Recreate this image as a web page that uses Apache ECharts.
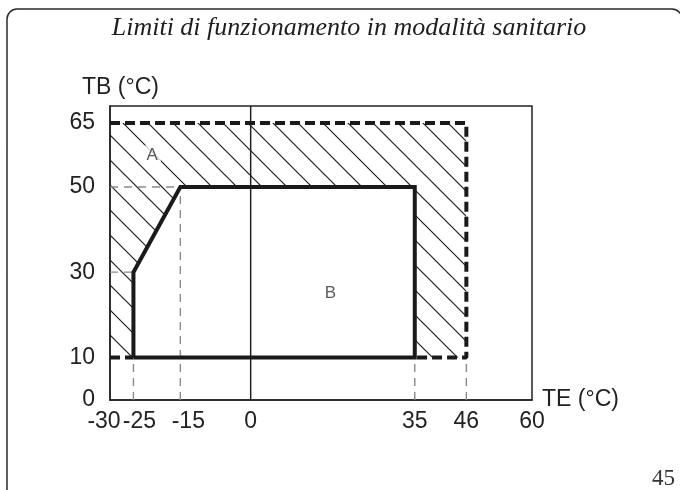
<!DOCTYPE html>
<html>
<head>
<meta charset="utf-8">
<script src="https://cdn.jsdelivr.net/npm/echarts@6.0.0/dist/echarts.min.js"></script>
<style>
  html, body { margin: 0; padding: 0; background: #fff; }
  #chart { width: 680px; height: 490px; }
</style>
</head>
<body>
<div id="chart"></div>
<script>
// Operating limits, domestic hot water mode: outside temperature TE vs water temperature TB
const teTicks = [-30, -25, -15, 0, 35, 46, 60];
const tbTicks = [0, 10, 30, 50, 65];

// Working envelope (solid thick outline)
const workArea = [[-25, 10], [-25, 30], [-15, 50], [35, 50], [35, 10], [-25, 10]];
// Outer limit (dashed thick outline)
const outerLimitTop = [[-30, 65], [46, 65], [46, 10], [35, 10]];
const outerLimitLeft = [[-30, 10], [-25, 10]];
// Hatched band A: outer limit minus working envelope
const bandA = [[-30, 10], [-30, 65], [46, 65], [46, 10], [35, 10], [35, 50], [-15, 50], [-25, 30], [-25, 10]];
// Thin grey reference lines
const guideLines = [
  [[-30, 50], [-15, 50]],
  [[-30, 30], [-25, 30]],
  [[-25, 0], [-25, 10]],
  [[-15, 0], [-15, 50]],
  [[35, 0], [35, 10]],
  [[46, 0], [46, 10]]
];
const zeroLine = [[0, 0], [0, 69]];
const regionLabels = [['A', -21, 57.5], ['B', 17, 25]];

const TB_MAX = 69;

// Diagonal hatch tile
function hatchTile() {
  const s = 25;
  const c = document.createElement('canvas');
  c.width = s; c.height = s;
  const g = c.getContext('2d');
  g.strokeStyle = '#1e1e1e';
  g.lineWidth = 1.2;
  [-s, 0, s].forEach(function (o) {
    g.beginPath();
    g.moveTo(o - 2, -2);
    g.lineTo(o + s + 2, s + 2);
    g.stroke();
  });
  return c;
}
const hatch = hatchTile();

const sansFont = '"Liberation Sans", Arial, sans-serif';
const serifFont = '"Liberation Serif", "Times New Roman", serif';

const chart = echarts.init(document.getElementById('chart'), null, { renderer: 'canvas' });

const series = [];

series.push({
  type: 'custom',
  z: 1,
  silent: true,
  data: [0],
  renderItem: function (params, api) {
    const pts = bandA.map(function (p) { return api.coord(p); });
    return {
      type: 'polygon',
      shape: { points: pts },
      style: { fill: { image: hatch, repeat: 'repeat' }, stroke: null }
    };
  }
});

guideLines.forEach(function (seg) {
  series.push({
    type: 'line', data: seg, symbol: 'none', z: 2, silent: true,
    lineStyle: { color: '#8a8a8a', width: 1.4, type: [8, 6] }
  });
});

series.push({
  type: 'line', data: zeroLine, symbol: 'none', z: 3, silent: true,
  lineStyle: { color: '#222', width: 1.5 }
});

[outerLimitTop, outerLimitLeft].forEach(function (seg) {
  series.push({
    type: 'line', data: seg, symbol: 'none', z: 4, silent: true,
    lineStyle: { color: '#1a1a1a', width: 4, type: [10, 5] }
  });
});

series.push({
  type: 'line', data: workArea, symbol: 'none', z: 5, silent: true,
  lineStyle: { color: '#1a1a1a', width: 4, join: 'miter' }
});

series.push({
  type: 'scatter', z: 6, silent: true, symbolSize: 0,
  data: regionLabels.map(function (r) { return { name: r[0], value: [r[1], r[2]] }; }),
  label: {
    show: true, position: 'inside', formatter: '{b}',
    color: '#333', fontSize: 17, fontFamily: sansFont,
    backgroundColor: '#fff', padding: [1, 3]
  }
});

chart.setOption({
  animation: false,
  backgroundColor: '#fff',
  grid: {
    left: 110, right: 148, top: 106, bottom: 90,
    show: true, borderColor: '#222', borderWidth: 1.5
  },
  xAxis: {
    type: 'value', min: -30, max: 60,
    axisLine: { show: true, onZero: false, lineStyle: { color: '#222', width: 1.5 } },
    axisTick: { show: false },
    splitLine: { show: false },
    axisLabel: {
      customValues: teTicks,
      color: '#222', fontSize: 23, fontFamily: sansFont, margin: 10,
      hideOverlap: false,
      formatter: function (v) {
        if (v === -30) return '{l|' + v + '}';
        if (v === -25) return '{r|' + v + '}';
        if (v === -15) return '{rr|' + v + '}';
        return String(v);
      },
      rich: {
        l: { fontSize: 23, fontFamily: sansFont, color: '#222', padding: [0, 12, 0, 0] },
        r: { fontSize: 23, fontFamily: sansFont, color: '#222', padding: [0, 0, 0, 12] },
        rr: { fontSize: 23, fontFamily: sansFont, color: '#222', padding: [0, 0, 0, 16] }
      }
    }
  },
  yAxis: {
    type: 'value', min: 0, max: TB_MAX,
    axisLine: { show: true, onZero: false, lineStyle: { color: '#222', width: 1.5 } },
    axisTick: { show: false },
    splitLine: { show: false },
    axisLabel: {
      customValues: tbTicks,
      color: '#222', fontSize: 23, fontFamily: sansFont, margin: 15,
      hideOverlap: false
    }
  },
  graphic: [
    {
      type: 'rect', silent: true, z: 0,
      shape: { x: 7, y: 9, width: 675, height: 520, r: 10 },
      style: { fill: null, stroke: '#2a2a2a', lineWidth: 1.5 }
    },
    {
      type: 'text', silent: true,
      style: {
        x: 349, y: 28, text: 'Limiti di funzionamento in modalità sanitario',
        textAlign: 'center', textVerticalAlign: 'middle',
        font: 'italic 26px ' + serifFont, fill: '#1e1e1e'
      }
    },
    {
      type: 'text', silent: true,
      style: {
        x: 82, y: 88, text: 'TB (°C)', textVerticalAlign: 'middle',
        font: '23px ' + sansFont, fill: '#222'
      }
    },
    {
      type: 'text', silent: true,
      style: {
        x: 542, y: 400, text: 'TE (°C)', textVerticalAlign: 'middle',
        font: '23px ' + sansFont, fill: '#222'
      }
    },
    {
      type: 'text', silent: true,
      style: {
        x: 675, y: 479, text: '45', textAlign: 'right', textVerticalAlign: 'middle',
        font: '23px ' + serifFont, fill: '#333'
      }
    }
  ],
  series: series
});
</script>
</body>
</html>
